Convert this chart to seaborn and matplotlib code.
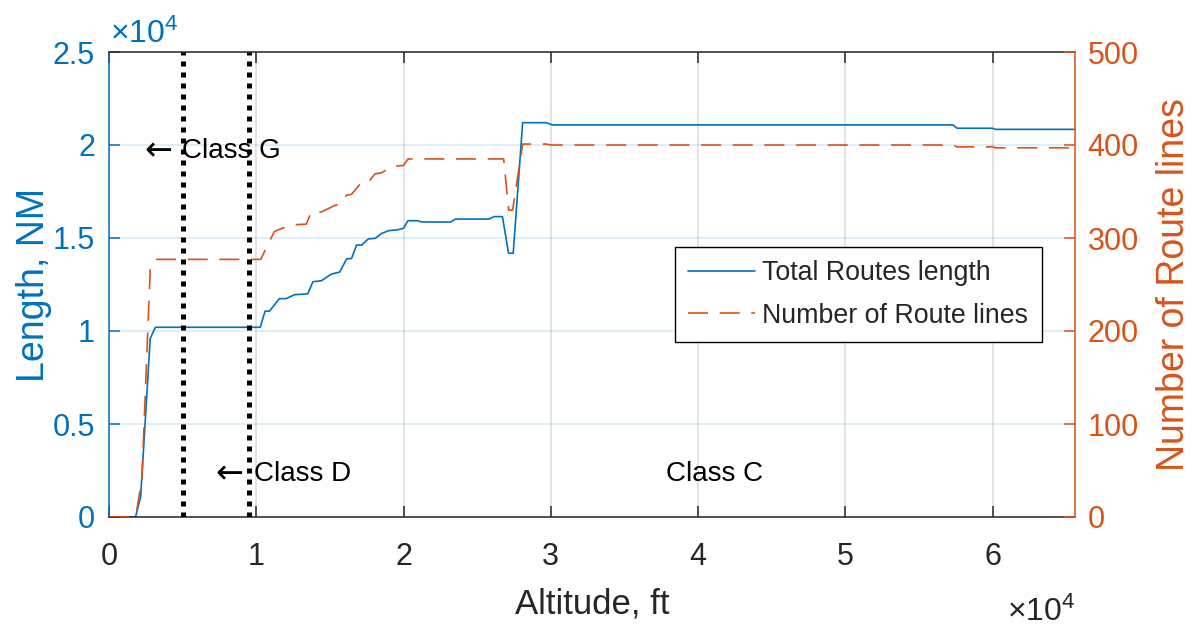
import matplotlib
matplotlib.use("Agg")
import matplotlib.pyplot as plt
import seaborn as sns
from matplotlib import font_manager

# Total route length (NM) against altitude (ft)
alt_length = [0, 1800, 2150, 2800, 3150, 10270, 10600, 10900, 11570, 12030,
              12600, 13500, 13850, 14420, 15100, 15670, 16130, 16470, 16810,
              17160, 17610, 18070, 18520, 19020, 19540, 20000, 20300, 20920,
              21260, 23190, 23530, 25810, 26150, 26720, 27130, 27450, 28090,
              29700, 30100, 57300, 57600, 60000, 60200, 65600]
total_length = [0, 0, 1090, 9600, 10200, 10200, 11070, 11070, 11740, 11740,
                11950, 12000, 12650, 12700, 13060, 13170, 13870, 13900, 14620,
                14620, 14950, 14980, 15250, 15400, 15430, 15520, 15930, 15930,
                15860, 15860, 16020, 16020, 16150, 16150, 14180, 14180, 21200,
                21200, 21080, 21080, 20900, 20900, 20840, 20840]

# Number of route lines against altitude (ft)
alt_count = [0, 1550, 1850, 2230, 2800, 3150, 10300, 11230, 11690, 12370,
             13400, 13740, 14420, 15330, 15790, 16130, 16470, 17160, 17610,
             18070, 18500, 19200, 20000, 20300, 26800, 27140, 27410, 28090,
             29700, 30000, 57250, 57600, 60000, 60200, 65600]
route_count = [0, 0, 4, 40, 266, 277, 277, 307, 310, 314,
               315, 328, 328, 335, 337, 346, 347, 360, 360,
               369, 370, 377, 378, 385, 385, 330, 330, 401,
               401, 400, 400, 398, 398, 397, 397]

# Airspace class ceilings (ft)
class_g_top = 5000
class_d_top = 9500

x_ticks = [0, 10000, 20000, 30000, 40000, 50000, 60000]
x_tick_labels = ["0", "1", "2", "3", "4", "5", "6"]
left_ticks = [0, 5000, 10000, 15000, 20000, 25000]
left_tick_labels = ["0", "0.5", "1", "1.5", "2", "2.5"]
right_ticks = [0, 100, 200, 300, 400, 500]
right_tick_labels = ["0", "100", "200", "300", "400", "500"]

BLUE = "#0072BD"
ORANGE = "#D95319"
INK = "#262626"

sns.set_theme(style="white")
installed = {f.name for f in font_manager.fontManager.ttflist}
main_font = "Liberation Sans Narrow" if "Liberation Sans Narrow" in installed else "Liberation Sans"
plt.rcParams["font.family"] = [main_font, "DejaVu Sans"]
plt.rcParams["mathtext.fontset"] = "custom"
plt.rcParams["mathtext.rm"] = main_font
plt.rcParams["mathtext.it"] = main_font
plt.rcParams["axes.unicode_minus"] = False

W, H = 1192, 627
fig = plt.figure(figsize=(W / 100, H / 100), dpi=100)
ax = fig.add_axes([109 / W, 1 - 517 / H, 966 / W, 465 / H])
ax2 = ax.twinx()

# grid
ax.set_axisbelow(True)
ax.grid(True, axis="y", color=BLUE, alpha=0.15, lw=1.2)
ax.grid(True, axis="x", color=INK, alpha=0.15, lw=1.2)

# series
sns.lineplot(x=alt_length, y=total_length, ax=ax, color=BLUE, lw=1.2,
             estimator=None, sort=False, legend=False)
line_len = ax.lines[-1]
sns.lineplot(x=alt_count, y=route_count, ax=ax2, color=ORANGE, lw=1.2,
             estimator=None, sort=False, legend=False)
line_cnt = ax2.lines[-1]
line_cnt.set_dashes((12, 7))

# airspace boundaries
for xb in (class_g_top, class_d_top):
    ax2.axvline(xb, color="black", lw=3.6, ls=(0, (1, 1.2)), zorder=5)

# annotations: arrow glyph and class name
arrow_kw = dict(fontsize=24, color="black", ha="left", va="center",
                family="DejaVu Sans")
name_kw = dict(fontsize=20, color="black", ha="left", va="center")
ax.text(2400, 19700, "\u2190", **arrow_kw)
ax.text(4950, 19700, "Class G", **name_kw)
ax.text(7250, 2300, "\u2190", **arrow_kw)
ax.text(9850, 2300, "Class D", **name_kw)
ax.text(37800, 2300, "Class C", **name_kw)

# limits and ticks
ax.set_xlim(0, 65600)
ax.set_ylim(0, 25000)
ax2.set_ylim(0, 500)
ax.set_xticks(x_ticks, labels=x_tick_labels)
ax.set_yticks(left_ticks, labels=left_tick_labels)
ax2.set_yticks(right_ticks, labels=right_tick_labels)

ax.tick_params(axis="x", direction="in", length=8, width=1.1, color=INK,
               labelcolor=INK, labelsize=22, pad=18, top=True, bottom=True)
ax.tick_params(axis="y", direction="in", length=8, width=1.1, color=BLUE,
               labelcolor=BLUE, labelsize=22, pad=10, left=True, right=False)
ax2.tick_params(axis="y", direction="in", length=8, width=1.1, color=ORANGE,
                labelcolor=ORANGE, labelsize=22, pad=9, right=True, left=False)

for s in ("top", "bottom"):
    ax.spines[s].set_color(INK)
    ax.spines[s].set_linewidth(1.1)
    ax2.spines[s].set_visible(False)
ax.spines["left"].set_color(BLUE)
ax.spines["left"].set_linewidth(1.1)
ax.spines["right"].set_visible(False)
ax2.spines["left"].set_visible(False)
ax2.spines["right"].set_color(ORANGE)
ax2.spines["right"].set_linewidth(1.1)

# axis labels
ax.set_xlabel("Altitude, ft", fontsize=25, color=INK)
ax.xaxis.set_label_coords(0.5, -0.152)
ax.set_ylabel("Length, NM", fontsize=27, color=BLUE, family="Liberation Sans")
ax.yaxis.set_label_coords(-0.059, 0.5)
ax2.set_ylabel("Number of Route lines", fontsize=27, color=ORANGE,
               family="Liberation Sans", rotation=90)
ax2.yaxis.set_label_coords(1.084, 0.5)

# exponent labels
fig.text(110 / W, 1 - 43 / H, r"$\times\mathregular{10^{4}}$", fontsize=23,
         color=BLUE, ha="left", va="baseline")
fig.text(1075 / W, 1 - 621 / H, r"$\times\mathregular{10^{4}}$", fontsize=23,
         color=INK, ha="right", va="baseline")

# legend
leg = ax2.legend([line_len, line_cnt],
                 ["Total Routes length", "Number of Route lines"],
                 loc="upper left", bbox_to_anchor=(0.586, 0.581),
                 borderaxespad=0, fontsize=19.3, frameon=True, fancybox=False,
                 framealpha=1, edgecolor="black", handlelength=2.5,
                 handletextpad=0.25, borderpad=0.5, labelspacing=0.62)
leg.get_frame().set_linewidth(1.0)
leg.set_zorder(10)

fig.savefig("out.png", dpi=100)
